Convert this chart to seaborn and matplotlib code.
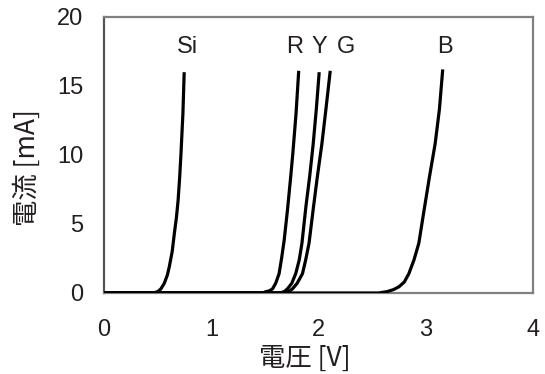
import matplotlib
matplotlib.use('Agg')
import matplotlib.pyplot as plt
import seaborn as sns

# I-V curves (voltage [V], current [mA])
si_v = [0, 0.46, 0.50, 0.53, 0.561, 0.59, 0.608, 0.635, 0.655, 0.675, 0.69, 0.705, 0.717, 0.735, 0.747]
si_i = [0, 0, 0.1, 0.3, 0.7, 1.3, 1.9, 3.0, 4.3, 5.5, 6.7, 8.4, 10.1, 13.0, 16.0]

r_v = [0, 1.48, 1.51, 1.54, 1.571, 1.60, 1.632, 1.655, 1.679, 1.71, 1.74, 1.76, 1.79, 1.815]
r_i = [0, 0, 0.1, 0.15, 0.3, 0.7, 1.4, 2.5, 3.8, 6.0, 8.4, 10.1, 13.0, 16.1]

y_v = [0, 1.64, 1.68, 1.71, 1.75, 1.787, 1.82, 1.845, 1.882, 1.918, 1.950, 1.98, 2.006]
y_i = [0, 0, 0.1, 0.3, 0.7, 1.4, 2.4, 3.6, 6.25, 8.5, 10.8, 13.4, 16.0]

g_v = [0, 1.68, 1.72, 1.757, 1.80, 1.85, 1.88, 1.911, 1.953, 1.99, 2.031, 2.07, 2.109]
g_i = [0, 0, 0.1, 0.3, 0.7, 1.4, 2.4, 3.6, 6.25, 8.5, 10.8, 13.4, 16.1]

b_v = [0, 2.56, 2.64, 2.70, 2.75, 2.80, 2.842, 2.89, 2.935, 2.984, 3.034, 3.087, 3.127, 3.158]
b_i = [0, 0, 0.1, 0.25, 0.45, 0.8, 1.4, 2.4, 3.6, 6.0, 8.4, 10.8, 13.3, 16.2]

curves = [(si_v, si_i), (r_v, r_i), (y_v, y_i), (g_v, g_i), (b_v, b_i)]

labels = ['Si', 'R', 'Y', 'G', 'B']
label_x = [0.78, 1.78, 2.01, 2.26, 3.18]
label_y = [17.8, 17.8, 17.8, 17.8, 17.8]

sns.set_style('white')
plt.rcParams['font.family'] = ['Liberation Sans', 'Noto Sans CJK JP']

txt = '#231f20'
fig = plt.figure(figsize=(5.45, 3.74), dpi=100)
ax = fig.add_axes([0.191, 0.2166, 0.787, 0.738])

for v, i in curves:
    sns.lineplot(x=v, y=i, ax=ax, color='black', linewidth=2.3, sort=False,
                 estimator=None, solid_capstyle='butt', zorder=3)

for lab, lx, ly in zip(labels, label_x, label_y):
    ax.text(lx, ly, lab, ha='center', va='center', fontsize=17, color=txt)

ax.set_xlim(0, 4)
ax.set_ylim(0, 20)
ax.set_xticks([0, 1, 2, 3, 4])
ax.set_yticks([0, 5, 10, 15, 20])
ax.tick_params(direction='in', length=5.5, width=1, color='#888888',
               labelsize=17, labelcolor=txt)
ax.tick_params(axis='x', pad=19)
ax.tick_params(axis='y', pad=15)

for side in ['top', 'right', 'bottom']:
    ax.spines[side].set_color('#808080')
    ax.spines[side].set_linewidth(1.6)
ax.spines['left'].set_color('#555555')
ax.spines['left'].set_linewidth(1.6)

cjk = ['Noto Sans CJK JP', 'DejaVu Sans']
ax.set_xlabel('電圧 [V]', fontsize=19, color=txt, family=cjk)
ax.set_ylabel('電流 [mA]', fontsize=19, color=txt, family=cjk)
ax.xaxis.label.set_va('center')
ax.yaxis.label.set_va('center')
ax.xaxis.set_label_coords(0.469, -0.236)
ax.yaxis.set_label_coords(-0.18, 0.453)

fig.savefig('out.png', dpi=100)
